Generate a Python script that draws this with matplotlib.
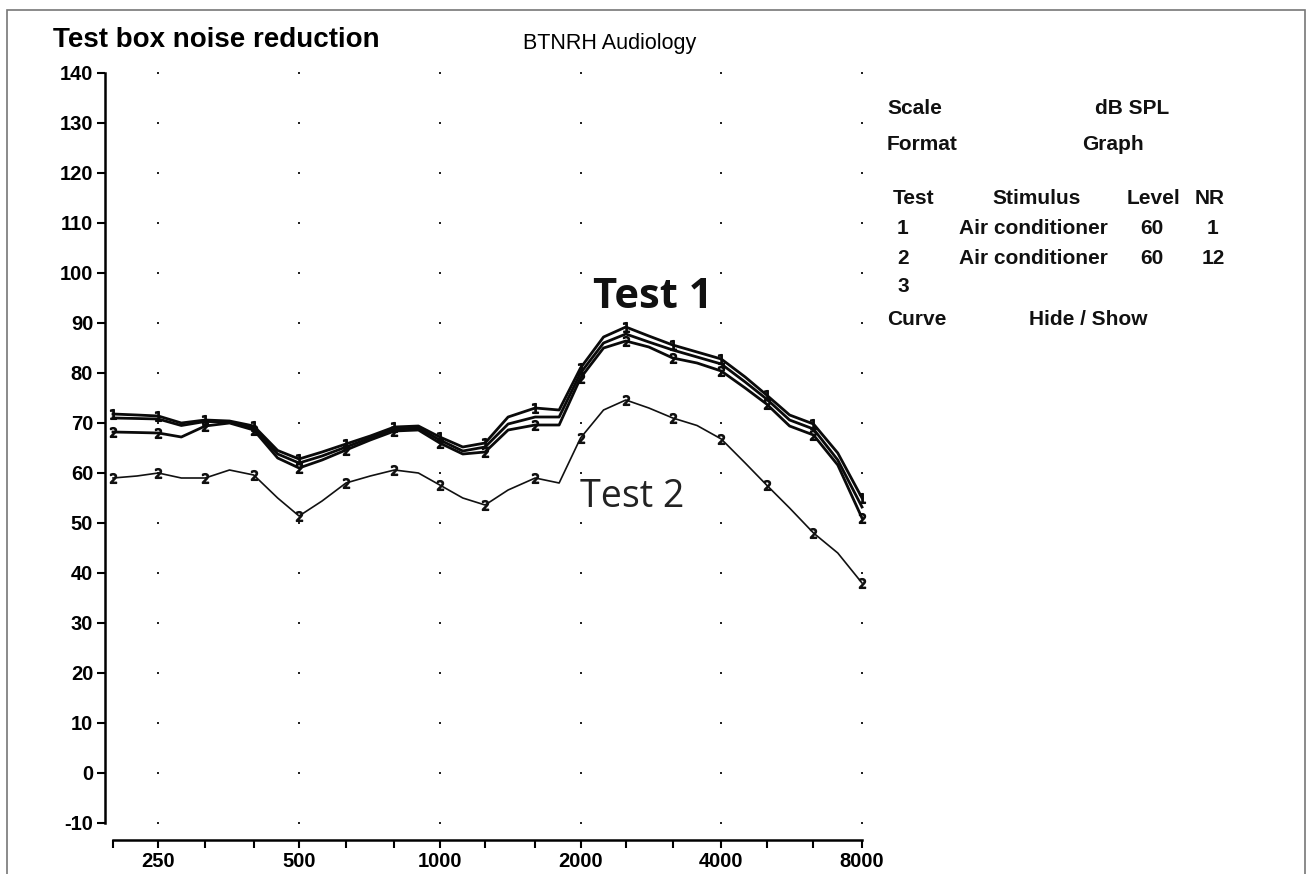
import numpy as np
import matplotlib.pyplot as plt
from matplotlib.patches import Rectangle

# 1/6-octave frequencies (Hz); every second one is a 1/3-octave marker point
freqs = [200, 225, 250, 280, 315, 355, 400, 450, 500, 560, 630, 710, 800, 900,
         1000, 1120, 1250, 1400, 1600, 1800, 2000, 2240, 2500, 2800, 3150, 3550,
         4000, 4500, 5000, 5600, 6300, 7100, 8000]

# test 1 cluster (three close curves), dB SPL
test1_top = [71.8, 71.6, 71.4, 70.0, 70.6, 70.4, 69.4, 64.5, 62.8, 64.2, 65.8, 67.4,
             69.2, 69.4, 67.2, 65.2, 66.0, 71.2, 73.0, 72.6, 81.0, 87.2, 89.2, 87.4,
             85.6, 84.2, 82.8, 79.2, 75.6, 71.6, 69.8, 64.0, 55.0]
test1_mid = [71.0, 70.9, 70.8, 69.5, 70.3, 70.2, 69.0, 63.8, 62.0, 63.4, 65.2, 67.0,
             68.8, 69.0, 66.6, 64.4, 65.2, 69.8, 71.2, 71.2, 80.0, 86.0, 87.8, 86.2,
             84.6, 83.2, 81.8, 78.2, 74.8, 70.6, 68.8, 62.6, 53.2]
test1_low = [68.2, 68.1, 68.0, 67.2, 69.4, 70.0, 68.6, 63.0, 61.0, 62.6, 64.6, 66.6,
             68.4, 68.6, 66.0, 63.8, 64.2, 68.6, 69.6, 69.6, 79.0, 85.0, 86.4, 85.2,
             83.0, 82.0, 80.4, 77.0, 73.8, 69.4, 67.6, 61.6, 51.0]
test2 = [59.0, 59.4, 60.0, 59.0, 59.0, 60.6, 59.6, 55.0, 51.4, 54.4, 58.0, 59.4,
         60.6, 60.0, 57.6, 55.0, 53.6, 56.6, 59.0, 58.0, 67.0, 72.6, 74.6, 73.0,
         71.0, 69.5, 66.8, 62.0, 57.6, 53.0, 48.0, 44.0, 38.0]

major_freqs = [250, 500, 1000, 2000, 4000, 8000]
minor_freqs = [200, 315, 400, 630, 800, 1250, 1600, 2500, 3150, 5000, 6300]
db_levels = list(range(-10, 141, 10))

info_rows = [
    ("Scale", "dB SPL"),
    ("Format", "Graph"),
]
table_head = ["Test", "Stimulus", "Level", "NR"]
table_rows = [
    ["1", "Air conditioner", "60", "1"],
    ["2", "Air conditioner", "60", "12"],
    ["3", "", "", ""],
]

plt.rcParams['font.family'] = ['Liberation Sans', 'DejaVu Sans']
plt.rcParams['axes.unicode_minus'] = False

W, H = 1313, 874


def fx(px):
    return px / W


def fy(py):
    return 1 - py / H


fig = plt.figure(figsize=(13.13, 8.74), dpi=100)
ax = fig.add_axes([fx(113), fy(823), fx(862) - fx(113), fy(73) - fy(823)])
ax.set_xscale('log')
ax.set_xlim(200, 8000)
ax.set_ylim(-10, 140)

# dotted grid
gx, gy = np.meshgrid(major_freqs, db_levels)
ax.plot(gx.ravel(), gy.ravel(), 's', color='#222222', ms=1.7, mew=0, zorder=1,
        clip_on=False)

ax.plot(freqs, test2, color='#111111', lw=1.2, marker='$2$', ms=7, markevery=2,
        zorder=3, clip_on=False)
ax.plot(freqs, test1_low, color='#0a0a0a', lw=2.0, marker='$2$', ms=7,
        markevery=2, zorder=4, clip_on=False)
ax.plot(freqs, test1_mid, color='#0a0a0a', lw=2.0, zorder=4, clip_on=False)
ax.plot(freqs, test1_top, color='#0a0a0a', lw=2.0, marker='$1$', ms=7,
        markevery=2, zorder=4, clip_on=False)

for s in ['top', 'right']:
    ax.spines[s].set_visible(False)
ax.spines['left'].set_position(('outward', 5.8))
ax.spines['bottom'].set_position(('outward', 12.2))
ax.spines['left'].set_linewidth(1.8)
ax.spines['bottom'].set_linewidth(1.8)

ax.set_yticks(db_levels)
ax.set_xticks(major_freqs)
ax.set_xticks(minor_freqs, minor=True)
ax.set_xticklabels([str(f) for f in major_freqs])
ax.xaxis.set_minor_formatter(plt.NullFormatter())
ax.tick_params(axis='both', which='both', direction='out', length=6, width=1.5,
               labelsize=14.5, pad=2.5)
for lab in ax.get_xticklabels() + ax.get_yticklabels():
    lab.set_fontweight('bold')

fig.text(fx(53), fy(40), "Test box noise reduction", fontsize=20,
         fontweight='bold', va='center', ha='left')
fig.text(fx(523), fy(43), "BTNRH Audiology", fontsize=15.5, va='center',
         ha='left')

fig.text(fx(653), fy(297), "Test 1", fontsize=30, fontweight='bold',
         family=['Open Sans', 'DejaVu Sans'], color='#111111', va='center',
         ha='center')
fig.text(fx(580), fy(497), "Test 2", fontsize=27,
         family=['Open Sans', 'DejaVu Sans'], color='#222222', va='center',
         ha='left')

# right-hand info panel
bold = dict(fontsize=15, fontweight='bold', va='center', color='#111111')
fig.text(fx(887), fy(108), info_rows[0][0], ha='left', **bold)
fig.text(fx(1132), fy(108), info_rows[0][1], ha='center', **bold)
fig.text(fx(887), fy(145), info_rows[1][0], ha='left', **bold)
fig.text(fx(1113), fy(145), info_rows[1][1], ha='center', **bold)

col_x = [893, 1037, 1153, 1210]
col_ha = ['left', 'center', 'center', 'center']
for j, h in enumerate(table_head):
    fig.text(fx(col_x[j]), fy(198), h, ha=col_ha[j], **bold)
row_y = [228, 258, 287]
row_x = [897, 959, 1152, 1213]
row_ha = ['left', 'left', 'center', 'center']
for i, row in enumerate(table_rows):
    for j, cell in enumerate(row):
        if cell:
            fig.text(fx(row_x[j]), fy(row_y[i]), cell, ha=row_ha[j], **bold)
fig.text(fx(887), fy(320), "Curve", ha='left', **bold)
fig.text(fx(1088), fy(320), "Hide / Show", ha='center', **bold)

# thin grey frame around the whole page
fig.patches.append(Rectangle((fx(7), -0.05), fx(1298), 1.05 - 10 / H,
                             transform=fig.transFigure, fill=False,
                             edgecolor='#777777', lw=1.2))

fig.savefig("out.png", dpi=100)
